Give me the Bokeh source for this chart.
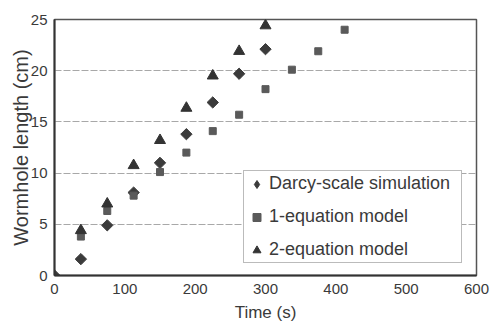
import math
from bokeh.plotting import figure
from bokeh.models import Legend, LegendItem, Range1d, FixedTicker
from bokeh.embed import file_html
from bokeh.resources import INLINE

# ---- data ----
time_s = [0, 37.5, 75, 112.5, 150, 187.5, 225, 262.5, 300]
darcy = [0, 1.6, 4.9, 8.1, 11.0, 13.8, 16.9, 19.7, 22.1]

time_1eq = [37.5, 75, 112.5, 150, 187.5, 225, 262.5, 300, 337.5, 375, 412.5]
model_1eq = [3.8, 6.3, 7.8, 10.1, 12.0, 14.1, 15.7, 18.2, 20.1, 21.9, 24.0]

time_2eq = [37.5, 75, 112.5, 150, 187.5, 225, 262.5, 300]
model_2eq = [4.4, 7.0, 10.75, 13.2, 16.35, 19.5, 21.9, 24.4]

x_ticks = [0, 100, 200, 300, 400, 500, 600]
y_ticks = [0, 5, 10, 15, 20, 25]

FONT = "Liberation Sans"
TXT = "#3a3a3a"
C_D, C_1, C_2 = "#3b3b3b", "#5a5a5a", "#333333"

p = figure(width=490, height=324, output_backend="svg", toolbar_location=None,
           x_range=Range1d(0, 600), y_range=Range1d(0, 25),
           min_border_left=54, min_border_right=14, min_border_top=19, min_border_bottom=47)

p.background_fill_color = "white"
p.border_fill_color = "white"
p.outline_line_color = "#555555"
p.outline_line_width = 1.5

# grid
p.xgrid.grid_line_color = None
p.ygrid.grid_line_color = "#a8a8a8"
p.ygrid.grid_line_dash = "7 2"
p.ygrid.grid_line_width = 1

for ax in (p.xaxis[0], p.yaxis[0]):
    ax.axis_line_color = "#333333"
    ax.axis_line_width = 2
    ax.major_tick_line_color = "#555555"
    ax.major_tick_out = 0
    ax.major_tick_in = 0
    ax.minor_tick_line_color = None
    ax.major_label_text_font = FONT
    ax.major_label_text_color = TXT
    ax.major_label_text_font_size = "15px"
    ax.axis_label_text_font = FONT
    ax.axis_label_text_color = TXT
    ax.axis_label_text_font_style = "normal"

p.xaxis.ticker = FixedTicker(ticks=x_ticks)
p.yaxis.ticker = FixedTicker(ticks=y_ticks)
p.xaxis.axis_label = "Time (s)"
p.yaxis.axis_label = "Wormhole length (cm)"
p.xaxis.axis_label_text_font_size = "17px"
p.yaxis.axis_label_text_font_size = "20px"
p.xaxis.major_label_standoff = 8
p.yaxis.major_label_standoff = 7
p.xaxis.axis_label_standoff = 6
p.yaxis.axis_label_standoff = -4

r1 = p.scatter(time_s, darcy, marker="square", angle=math.pi / 4, size=8,
               fill_color=C_D, line_color=C_D)
r2 = p.scatter(time_1eq, model_1eq, marker="square", size=7,
               fill_color=C_1, line_color=C_1)
r3 = p.scatter(time_2eq, model_2eq, marker="triangle", size=11,
               fill_color=C_2, line_color=C_2)

# smaller legend swatches (not drawn in the plot: NaN position)
nan = [float("nan")]
l1 = p.scatter(nan, nan, marker="diamond", size=10, fill_color=C_D, line_color=C_D)
l2 = p.scatter(nan, nan, marker="square", size=5, fill_color=C_1, line_color=C_1)
l3 = p.scatter(nan, nan, marker="triangle", size=8, fill_color=C_2, line_color=C_2)

legend = Legend(items=[
    LegendItem(label="Darcy-scale simulation", renderers=[l1]),
    LegendItem(label="1-equation model", renderers=[l2]),
    LegendItem(label="2-equation model", renderers=[l3]),
], location=(189, 12))
legend.label_text_font = FONT
legend.label_text_font_size = "18px"
legend.label_text_color = TXT
legend.border_line_color = "#777777"
legend.border_line_width = 1
legend.background_fill_color = "white"
legend.background_fill_alpha = 1
legend.padding = 2
legend.margin = 0
legend.spacing = 12
legend.glyph_width = 21
legend.glyph_height = 20
legend.label_height = 20
legend.label_width = 190
legend.label_standoff = 2
p.add_layout(legend, "center")

open("out.html", "w").write(file_html(p, INLINE))
